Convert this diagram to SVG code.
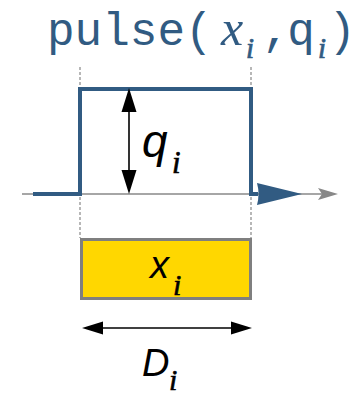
<svg xmlns="http://www.w3.org/2000/svg" width="364" height="395" viewBox="0 0 364 395">
<style>
.mono{font-family:"Liberation Mono",monospace;font-size:46px;fill:#315b82}
.mi{font-family:"Liberation Serif",serif;font-style:italic}
.ti{fill:#315b82;stroke:#315b82;stroke-width:0.7}
.bi{fill:#000;stroke:#000;stroke-width:0.6}
.si{font-family:"Liberation Sans",sans-serif;font-style:italic;fill:#000}
.dot{stroke:#888;stroke-width:1.2;stroke-dasharray:3 2;fill:none}
.blk{stroke:#000;stroke-width:1.6;fill:none}
</style>
<rect width="364" height="395" fill="#fff"/>
<g id="title">
<text class="mono" x="47" y="45">pulse(</text>
<text class="mi" x="221" y="45" font-size="50" fill="#315b82">x</text>
<text class="mi ti" x="246" y="58" font-size="29">i</text>
<text class="mono" x="276" y="45" text-anchor="middle">,</text>
<text class="mono" x="301" y="45" text-anchor="middle">q</text>
<text class="mi ti" x="318" y="58" font-size="29">i</text>
<text class="mono" x="342" y="45" text-anchor="middle">)</text>
</g>
<g id="guides">
<line class="dot" x1="80" y1="67" x2="80" y2="238"/>
<line class="dot" x1="251" y1="67" x2="251" y2="238"/>
</g>
<g id="axis">
<line x1="22" y1="194" x2="322" y2="194" stroke="#888" stroke-width="1.6"/>
<path d="M318,188 L338,194 L318,200 L322,194 Z" fill="#888"/>
</g>
<g id="pulse">
<path d="M33,194 H80 V89 H251 V194 H258" fill="none" stroke="#315b82" stroke-width="4"/>
<path d="M257,183 L302,194 L257,205 Q260,194 257,183 Z" fill="#315b82"/>
</g>
<g id="connectors">
<line class="blk" x1="129" y1="110" x2="129" y2="173"/>
<path d="M129,88 L121.5,112 L136.5,112 Z"/>
<path d="M129,194 L121.5,170 L136.5,170 Z"/>
<line class="blk" x1="100" y1="328" x2="234" y2="328"/>
<path d="M82,328 L103,321.5 L103,334.5 Z"/>
<path d="M252,328 L231,321.5 L231,334.5 Z"/>
</g>
<g id="q-label">
<text class="si" x="142" y="157" font-size="46">q</text>
<text class="mi bi" x="172" y="173" font-size="31">i</text>
</g>
<g id="box">
<rect x="81.5" y="239.5" width="169" height="59" fill="#ffd700" stroke="#7f7f7f" stroke-width="3"/>
<text class="si" x="150" y="278" font-size="38">x</text>
<text class="mi bi" x="173" y="295" font-size="30">i</text>
</g>
<g id="d-label">
<text class="si" x="142" y="376" font-size="38">D</text>
<text class="mi bi" x="169" y="390" font-size="30">i</text>
</g>
</svg>
